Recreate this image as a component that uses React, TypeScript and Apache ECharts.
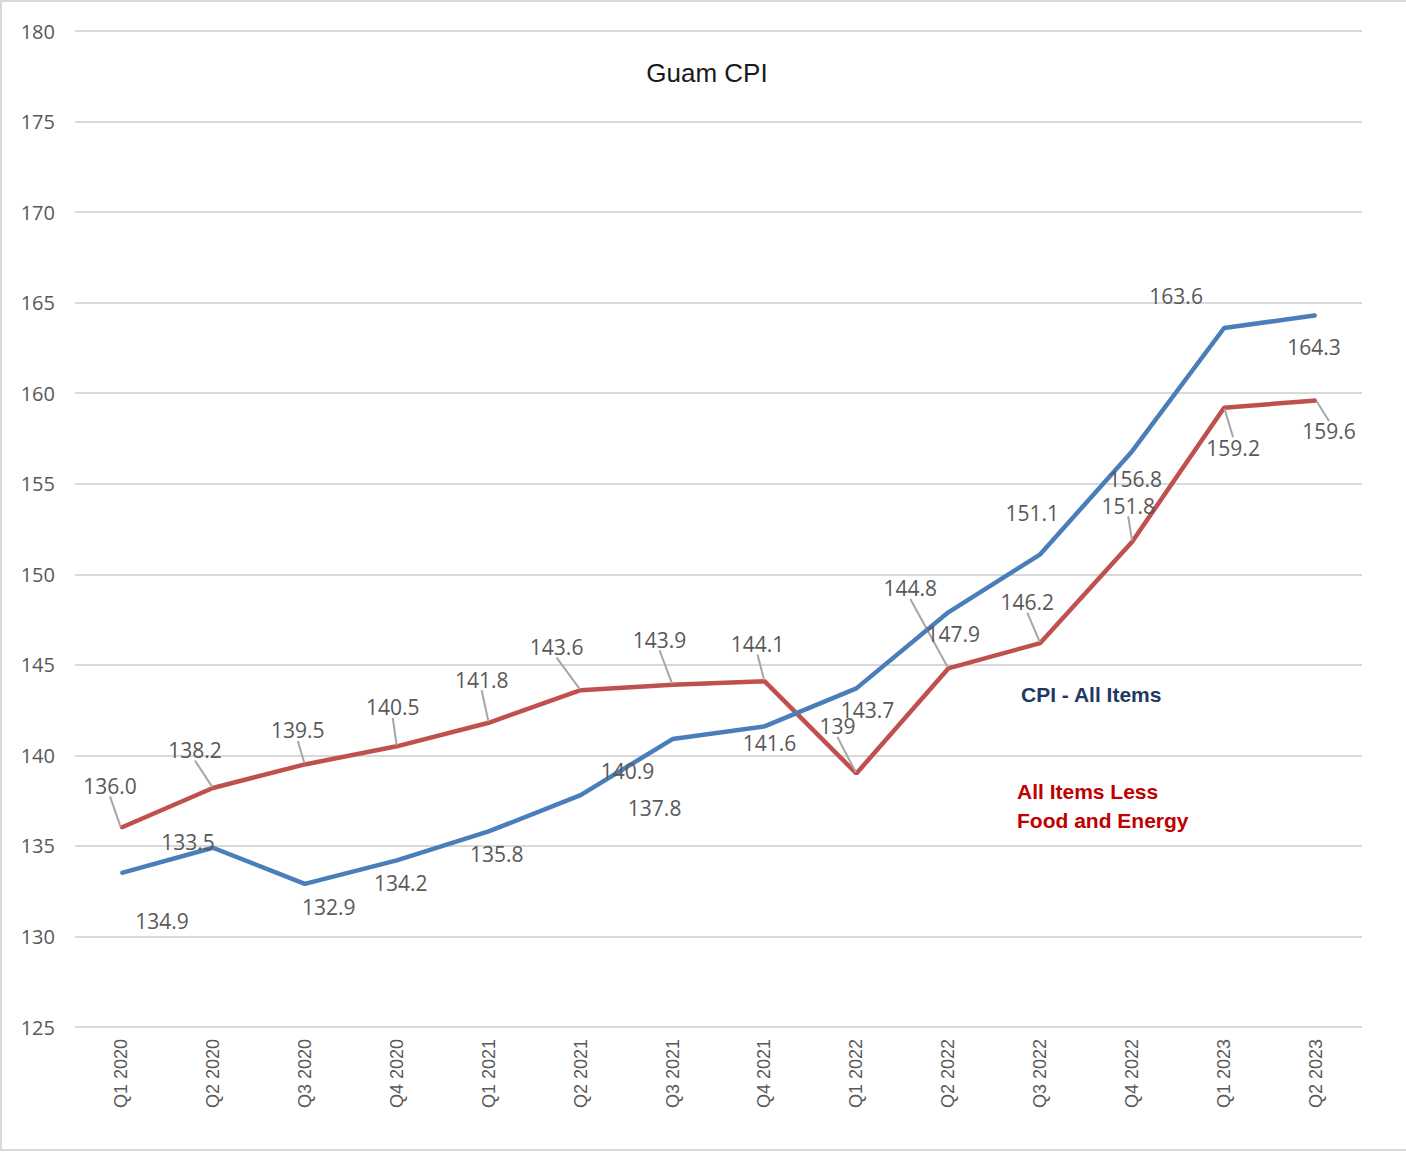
import React, { useEffect, useRef } from "react";
import * as echarts from "echarts";

// ---- data ----
const categories = [
  "Q1 2020", "Q2 2020", "Q3 2020", "Q4 2020",
  "Q1 2021", "Q2 2021", "Q3 2021", "Q4 2021",
  "Q1 2022", "Q2 2022", "Q3 2022", "Q4 2022",
  "Q1 2023", "Q2 2023",
];
const cpiAllItems = [133.5, 134.9, 132.9, 134.2, 135.8, 137.8, 140.9, 141.6, 143.7, 147.9, 151.1, 156.8, 163.6, 164.3];
const cpiLessFoodEnergy = [136.0, 138.2, 139.5, 140.5, 141.8, 143.6, 143.9, 144.1, 139.0, 144.8, 146.2, 151.8, 159.2, 159.6];
const lessFoodEnergyLabels = ["136.0", "138.2", "139.5", "140.5", "141.8", "143.6", "143.9", "144.1", "139", "144.8", "146.2", "151.8", "159.2", "159.6"];
const yTicks = { min: 125, max: 180, interval: 5 };
const titleText = "Guam CPI";
const seriesNames = ["CPI - All Items", "All Items Less Food and Energy"];

// label placement (pixel offsets of each label from its point)
const allItemsLabelOffsets = [
  [67, -31], [-51, 73], [24, 23], [4, 23], [8, 23], [74, 13], [-45, 32],
  [5, 17], [11, 22], [5, 22], [-8, -41], [3, 28], [-48, -32], [-2, 32],
];
const lessLabelOffsets = [
  [-11, -42], [-18, -38], [-7, -34], [-4, -39], [-7, -43], [-24, -43], [-13, -45],
  [-7, -37], [-19, -47], [-38, -80], [-13, -41], [-4, -36], [9, 40], [13, 31],
];

const BLUE = "#4A7EBB";
const RED = "#C0504D";
const LABEL_GRAY = "#595959";
const GRID_GRAY = "#D9D9D9";
const LABEL_FONT = "'Open Sans', 'Noto Sans', sans-serif";
const ARIAL = "'Liberation Sans', Arial, sans-serif";

export default function App() {
  const ref = useRef<HTMLDivElement>(null);
  useEffect(() => {
    if (!ref.current) return;
    const chart = echarts.init(ref.current, null, { renderer: "svg" });
    const dataLabel = {
      show: true,
      position: "inside",
      color: LABEL_GRAY,
      fontFamily: LABEL_FONT,
      fontSize: 21,
    };
    chart.setOption({
      animation: false,
      backgroundColor: "#ffffff",
      grid: { left: 75, right: 44, top: 31, bottom: 125, containLabel: false },
      graphic: [
        {
          type: "rect",
          shape: { x: 1, y: 1, width: 1420, height: 1149 },
          style: { fill: "none", stroke: GRID_GRAY, lineWidth: 2 },
          silent: true,
          z: -10,
        },
        {
          type: "text",
          x: 707,
          y: 73,
          style: {
            text: titleText,
            fill: "#1a1a1a",
            font: `26px ${ARIAL}`,
            textAlign: "center",
            textVerticalAlign: "middle",
          },
        },
        {
          type: "text",
          x: 1021,
          y: 694,
          style: {
            text: seriesNames[0],
            fill: "#1F3864",
            font: `bold 21px ${ARIAL}`,
            textAlign: "left",
            textVerticalAlign: "middle",
          },
        },
        {
          type: "text",
          x: 1017,
          y: 791,
          style: {
            text: "All Items Less",
            fill: "#C00000",
            font: `bold 21px ${ARIAL}`,
            textAlign: "left",
            textVerticalAlign: "middle",
          },
        },
        {
          type: "text",
          x: 1017,
          y: 820,
          style: {
            text: "Food and Energy",
            fill: "#C00000",
            font: `bold 21px ${ARIAL}`,
            textAlign: "left",
            textVerticalAlign: "middle",
          },
        },
      ],
      xAxis: {
        type: "category",
        data: categories,
        boundaryGap: true,
        axisLine: { show: false },
        axisTick: { show: false },
        axisLabel: {
          rotate: 90,
          margin: 12,
          color: LABEL_GRAY,
          fontFamily: ARIAL,
          fontSize: 18,
          interval: 0,
        },
        splitLine: { show: false },
      },
      yAxis: {
        type: "value",
        min: yTicks.min,
        max: yTicks.max,
        interval: yTicks.interval,
        axisLine: { show: false },
        axisTick: { show: false },
        axisLabel: {
          margin: 20,
          color: LABEL_GRAY,
          fontFamily: LABEL_FONT,
          fontSize: 20,
        },
        splitLine: { show: true, lineStyle: { color: GRID_GRAY, width: 2 } },
      },
      series: [
        {
          name: seriesNames[0],
          type: "line",
          data: cpiAllItems,
          showSymbol: true,
          symbol: "circle",
          symbolSize: 2,
          itemStyle: { color: BLUE },
          lineStyle: { color: BLUE, width: 4.5 },
          label: { ...dataLabel, formatter: (p: any) => Number(p.value).toFixed(1) },
          labelLine: { show: false },
          labelLayout: (p: any) => ({
            dx: allItemsLabelOffsets[p.dataIndex][0],
            dy: allItemsLabelOffsets[p.dataIndex][1],
          }),
          z: 3,
        },
        {
          name: seriesNames[1],
          type: "line",
          data: cpiLessFoodEnergy,
          showSymbol: true,
          symbol: "circle",
          symbolSize: 2,
          itemStyle: { color: RED },
          lineStyle: { color: RED, width: 4.5 },
          label: { ...dataLabel, formatter: (p: any) => lessFoodEnergyLabels[p.dataIndex] },
          labelLine: { show: true, lineStyle: { color: "#A6A6A6", width: 2 } },
          labelLayout: (p: any) => ({
            dx: lessLabelOffsets[p.dataIndex][0],
            dy: lessLabelOffsets[p.dataIndex][1],
          }),
          z: 2,
        },
      ],
    });
    return () => chart.dispose();
  }, []);
  return (
    <div
      ref={ref}
      style={{ position: "fixed", left: 0, top: 0, width: 1406, height: 1152, background: "#fff" }}
    />
  );
}
